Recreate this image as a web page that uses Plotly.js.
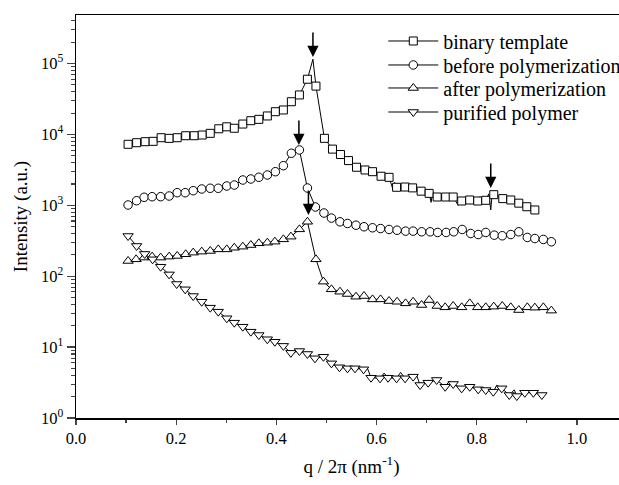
<!DOCTYPE html>
<html>
<head>
<meta charset="utf-8">
<script src="https://cdn.plot.ly/plotly-3.0.1.min.js"></script>
<style>
html,body{margin:0;padding:0;overflow:hidden;background:#fff;}
#chart{width:640px;height:485px;}
</style>
</head>
<body>
<div id="chart"></div>
<script>
// ---- data (q/2pi in nm^-1, intensity in a.u.) ----
var seriesNames = ['binary template', 'before polymerization', 'after polymerization', 'purified polymer'];

// binary template (squares)
var qSq = [0.104,0.121,0.138,0.154,0.170,0.186,0.202,0.219,0.236,0.252,0.268,0.285,0.301,0.316,0.333,0.349,0.365,0.382,0.398,0.414,0.430,0.446,0.462,0.479,0.496,0.512,0.528,0.544,0.560,0.577,0.592,0.609,0.625,0.640,0.657,0.672,0.689,0.705,0.721,0.738,0.753,0.770,0.786,0.802,0.818,0.834,0.852,0.868,0.884,0.900,0.916];
var ISq = [7250,7640,7890,7980,8980,8790,8980,9580,9580,9800,10350,12000,12800,12200,14000,15600,16300,18200,20900,22100,28900,36000,60000,48000,8800,6200,5200,4270,3440,3150,2980,2570,2480,1795,1810,1760,1582,1472,1309,1309,1309,1150,1188,1150,1176,1412,1242,1188,1072,955,859];
// extra points on the line only (peak apex and noise between markers)
var qSqLineOnly = [0.473,0.633,0.636,0.709,0.712,0.763,0.806,0.824,0.828,0.831];
var ISqLineOnly = [115000,1650,2100,1100,1550,1000,1320,1450,860,1500];

// before polymerization (circles)
var qCi = [0.104,0.121,0.136,0.152,0.169,0.186,0.202,0.218,0.234,0.251,0.268,0.284,0.301,0.316,0.333,0.349,0.365,0.382,0.398,0.414,0.430,0.446,0.462,0.478,0.495,0.510,0.527,0.542,0.559,0.575,0.592,0.608,0.625,0.641,0.658,0.673,0.690,0.707,0.722,0.739,0.754,0.771,0.788,0.803,0.818,0.835,0.851,0.868,0.884,0.901,0.916,0.933,0.949];
var ICi = [1010,1160,1297,1322,1322,1352,1506,1506,1607,1698,1738,1738,1872,1932,2273,2350,2484,2674,2978,3620,5420,6030,1754,946,778,660,585,554,524,498,482,470,456,445,432,432,423,423,414,414,423,456,400,387,414,379,372,387,423,352,340,330,306];
var qCiLineOnly = [];
var ICiLineOnly = [];

// after polymerization (triangles up)
var qTu = [0.104,0.120,0.136,0.152,0.169,0.186,0.202,0.219,0.234,0.251,0.268,0.284,0.301,0.316,0.333,0.349,0.365,0.382,0.397,0.414,0.429,0.446,0.462,0.479,0.494,0.510,0.527,0.542,0.559,0.575,0.592,0.608,0.625,0.641,0.658,0.673,0.690,0.705,0.721,0.737,0.753,0.770,0.786,0.802,0.818,0.834,0.851,0.868,0.884,0.901,0.916,0.933,0.949];
var ITu = [164,173,183,189,183,189,193,204,215,222,227,239,239,252,261,275,291,297,307,331,361,458,586,173,83.8,65.3,60.4,56.1,51.4,52.5,47.1,47.1,44.6,43.6,41.4,43.6,39.2,46.1,38.0,36.4,38.0,36.4,41.4,36.4,36.4,37.2,38.0,36.4,33.3,36.4,36.0,36.4,32.7];
var qTuLineOnly = [];
var ITuLineOnly = [];

// purified polymer (triangles down)
var qTd = [0.104,0.121,0.137,0.153,0.169,0.186,0.201,0.218,0.234,0.251,0.268,0.284,0.301,0.316,0.333,0.349,0.365,0.382,0.397,0.414,0.429,0.446,0.462,0.477,0.494,0.510,0.526,0.542,0.557,0.574,0.589,0.607,0.623,0.640,0.657,0.673,0.687,0.703,0.720,0.737,0.753,0.770,0.786,0.803,0.818,0.833,0.850,0.865,0.880,0.896,0.913,0.930];
var ITd = [369,267,206,173,136,106,77.6,65.3,52.5,43.6,36.0,31.6,25.5,22.1,19.4,16.5,14.8,12.9,11.9,10.4,8.3,8.8,8.0,6.95,7.3,5.9,5.19,5.02,5.02,4.86,3.70,3.63,3.70,3.63,3.63,3.83,2.92,3.15,3.44,2.76,3.02,2.62,2.76,2.54,2.48,2.35,2.62,2.11,2.04,2.27,2.27,2.11];
var qTdLineOnly = [0.582,0.615,0.648,0.680,0.745,0.840,0.875];
var ITdLineOnly = [5.0,4.3,4.4,4.0,3.3,2.9,2.5];

// arrows marking the peaks (q, log10 of intensity at the arrow tip)
var arrowQ = [0.473,0.445,0.464,0.828];
var arrowLogI = [5.09,3.85,2.863,3.244];

// axis tick labels
var yTickVals = [1,10,100,1000,10000,100000];
var yTickText = ['10<sup>0</sup>','10<sup>1</sup>','10<sup>2</sup>','10<sup>3</sup>','10<sup>4</sup>','10<sup>5</sup>'];

// ---- build traces ----
function mergeLine(q, I, q2, I2){
  var pts = [];
  for (var i=0;i<q.length;i++) pts.push([q[i],I[i]]);
  for (var j=0;j<q2.length;j++) pts.push([q2[j],I2[j]]);
  pts.sort(function(a,b){return a[0]-b[0];});
  return {x: pts.map(function(p){return p[0];}), y: pts.map(function(p){return p[1];})};
}
var FONT = 'Liberation Serif, Times New Roman, serif';
var sets = [
  {q:qSq, I:ISq, q2:qSqLineOnly, I2:ISqLineOnly, sym:'square', size:8},
  {q:qCi, I:ICi, q2:qCiLineOnly, I2:ICiLineOnly, sym:'circle', size:8.5},
  {q:qTu, I:ITu, q2:qTuLineOnly, I2:ITuLineOnly, sym:'triangle-up', size:9},
  {q:qTd, I:ITd, q2:qTdLineOnly, I2:ITdLineOnly, sym:'triangle-down', size:9}
];
var legendIds = ['legend','legend2','legend3','legend4'];
var traces = [];
sets.forEach(function(s){
  var l = mergeLine(s.q, s.I, s.q2, s.I2);
  traces.push({x:l.x, y:l.y, type:'scatter', mode:'lines', line:{color:'#000', width:1}, showlegend:false, hoverinfo:'skip'});
});
sets.forEach(function(s){
  traces.push({x:s.q, y:s.I, type:'scatter', mode:'markers', showlegend:false,
    marker:{symbol:s.sym, size:s.size, color:'#fff', line:{color:'#000', width:1}}});
});
sets.forEach(function(s, k){
  traces.push({x:[null], y:[null], type:'scatter', mode:'lines+markers', name:seriesNames[k],
    legend:legendIds[k], showlegend:true,
    line:{color:'#000', width:1},
    marker:{symbol:s.sym, size:s.size, color:'#fff', line:{color:'#000', width:1}}});
});

var minorY = [];
for (var d=0; d<6; d++) for (var m=2; m<=9; m++) minorY.push(m*Math.pow(10,d));

var annotations = arrowQ.map(function(q, i){
  return {x:q, y:arrowLogI[i], xref:'x', yref:'y', text:'', showarrow:true,
    arrowhead:2, arrowsize:1.5, arrowwidth:1.5, arrowcolor:'#000',
    ax:0, ay:-26, standoff:0, startstandoff:0};
});

var legendRowsY = [0.9355, 0.876, 0.8189, 0.7593];
function legendCfg(yv){
  return {x:0.5577, y:yv, xanchor:'left', yanchor:'middle', bgcolor:'rgba(0,0,0,0)',
    font:{family:FONT, size:20, color:'#000'}, itemwidth:50};
}

var layout = {
  width:640, height:485,
  margin:{l:76, r:13, t:15, b:67},
  paper_bgcolor:'#fff', plot_bgcolor:'#fff',
  font:{family:FONT, color:'#000', size:16.5},
  showlegend:true,
  legend:legendCfg(legendRowsY[0]),
  legend2:legendCfg(legendRowsY[1]),
  legend3:legendCfg(legendRowsY[2]),
  legend4:legendCfg(legendRowsY[3]),
  xaxis:{range:[0,1.1], dtick:0.2, tick0:0, tickformat:'.1f', ticks:'outside', ticklen:5, tickwidth:1.3,
    showline:true, linewidth:1.5, linecolor:'#000', mirror:true, showgrid:false, zeroline:false,
    tickfont:{family:FONT, size:16.5},
    minor:{dtick:0.1, tick0:0, ticks:'outside', ticklen:3, tickwidth:1.2, showgrid:false},
    title:{text:'q / 2\u03c0 (nm<sup>-1</sup>)', font:{family:FONT, size:19}, standoff:12}},
  yaxis:{type:'log', range:[0,5.684], tickmode:'array', tickvals:yTickVals, ticktext:yTickText,
    ticks:'outside', ticklen:8, tickwidth:1.3, showline:true, linewidth:1.5, linecolor:'#000',
    mirror:true, showgrid:false, zeroline:false, tickfont:{family:FONT, size:16.5},
    minor:{tickmode:'array', tickvals:minorY, ticks:'outside', ticklen:4, tickwidth:1.1, showgrid:false},
    title:{text:'Intensity (a.u.)', font:{family:FONT, size:19}, standoff:8}},
  annotations:annotations
};
Plotly.newPlot('chart', traces, layout, {displayModeBar:false, staticPlot:true});
</script>
</body>
</html>
